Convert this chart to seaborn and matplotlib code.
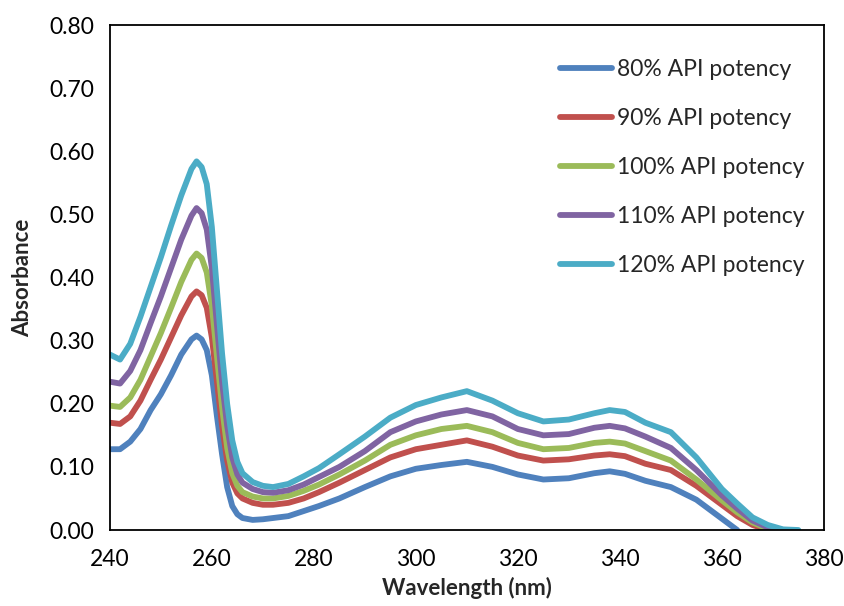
import numpy as np
import pandas as pd
import matplotlib
matplotlib.use("Agg")
import matplotlib.pyplot as plt
import seaborn as sns

# === DATA ===
wavelength = [240, 242, 244, 246, 248, 250, 252, 254, 256, 257, 258, 259, 260, 261,
              262, 263, 264, 265, 266, 268, 270, 272, 275, 278, 281, 285, 290, 295,
              300, 305, 310, 315, 320, 325, 330, 335, 338, 341, 345, 350, 355, 360,
              363, 366, 369, 372, 375]

abs_80 = [0.128, 0.128, 0.140, 0.160, 0.190, 0.215, 0.245, 0.278, 0.302, 0.308, 0.302,
          0.285, 0.245, 0.180, 0.120, 0.068, 0.038, 0.025, 0.019, 0.016, 0.017, 0.019,
          0.022, 0.030, 0.038, 0.050, 0.068, 0.085, 0.097, 0.103, 0.108, 0.100, 0.088,
          0.080, 0.082, 0.090, 0.093, 0.089, 0.078, 0.068, 0.048, 0.018, 0.000,
          np.nan, np.nan, np.nan, np.nan]
abs_90 = [0.170, 0.168, 0.180, 0.205, 0.238, 0.270, 0.305, 0.340, 0.370, 0.378, 0.372,
          0.352, 0.305, 0.235, 0.165, 0.110, 0.075, 0.058, 0.050, 0.043, 0.040, 0.040,
          0.043, 0.050, 0.060, 0.075, 0.095, 0.115, 0.128, 0.135, 0.142, 0.132, 0.118,
          0.110, 0.112, 0.118, 0.120, 0.117, 0.105, 0.095, 0.070, 0.040, 0.022, 0.008,
          0.000, np.nan, np.nan]
abs_100 = [0.197, 0.195, 0.210, 0.238, 0.275, 0.312, 0.352, 0.393, 0.428, 0.438, 0.431,
           0.408, 0.355, 0.275, 0.195, 0.130, 0.090, 0.070, 0.060, 0.053, 0.050, 0.050,
           0.054, 0.062, 0.072, 0.088, 0.110, 0.135, 0.150, 0.160, 0.165, 0.155, 0.138,
           0.128, 0.130, 0.138, 0.140, 0.137, 0.125, 0.110, 0.080, 0.047, 0.028, 0.012,
           0.002, 0.000, np.nan]
abs_110 = [0.235, 0.232, 0.252, 0.285, 0.328, 0.370, 0.415, 0.460, 0.498, 0.510, 0.502,
           0.476, 0.415, 0.325, 0.235, 0.165, 0.115, 0.088, 0.075, 0.065, 0.060, 0.059,
           0.063, 0.072, 0.084, 0.100, 0.125, 0.155, 0.172, 0.183, 0.190, 0.180, 0.160,
           0.150, 0.152, 0.162, 0.165, 0.161, 0.148, 0.130, 0.095, 0.055, 0.034, 0.015,
           0.004, 0.000, np.nan]
abs_120 = [0.278, 0.270, 0.295, 0.338, 0.385, 0.432, 0.482, 0.530, 0.572, 0.584, 0.575,
           0.548, 0.480, 0.380, 0.280, 0.200, 0.142, 0.108, 0.090, 0.076, 0.070, 0.068,
           0.073, 0.085, 0.098, 0.120, 0.148, 0.178, 0.198, 0.210, 0.220, 0.205, 0.185,
           0.172, 0.175, 0.185, 0.190, 0.187, 0.170, 0.155, 0.115, 0.065, 0.042, 0.020,
           0.008, 0.001, 0.000]

series_labels = ["80% API potency", "90% API potency", "100% API potency",
                 "110% API potency", "120% API potency"]
colors = ["#4F81BD", "#C0504D", "#9BBB59", "#8064A2", "#4BACC6"]

x_ticks = [240, 260, 280, 300, 320, 340, 360, 380]
y_ticks = [0.0, 0.1, 0.2, 0.3, 0.4, 0.5, 0.6, 0.7, 0.8]

# === LONG-FORM TABLE ===
frames = []
for lab, vals in zip(series_labels, [abs_80, abs_90, abs_100, abs_110, abs_120]):
    frames.append(pd.DataFrame({"Wavelength": wavelength, "Absorbance": vals, "Series": lab}))
df = pd.concat(frames, ignore_index=True).dropna()

# === PLOT ===
sns.set_style("white")
plt.rcParams["font.family"] = ["Lato", "DejaVu Sans"]

fig = plt.figure(figsize=(8.45, 6.06), dpi=100)
ax = fig.add_axes([0.130, 0.1254, 0.845, 0.8333])

sns.lineplot(data=df, x="Wavelength", y="Absorbance", hue="Series",
             hue_order=series_labels, palette=colors, linewidth=4.2,
             estimator=None, sort=True, ax=ax)
for line in ax.get_lines():
    line.set_solid_joinstyle("round")
    line.set_solid_capstyle("round")

ax.set_xlim(240, 380)
ax.set_ylim(0, 0.8)
ax.set_xticks(x_ticks)
ax.set_yticks(y_ticks)
ax.set_yticklabels([f"{v:.2f}" for v in y_ticks])
ax.tick_params(axis="both", labelsize=16.5, direction="out", length=5, width=1.2,
               colors="black", pad=6)
ax.tick_params(axis="x", pad=9)
for s in ax.spines.values():
    s.set_visible(True)
    s.set_color("black")
    s.set_linewidth(1.3)

ax.set_xlabel("Wavelength (nm)", fontsize=16, fontweight="bold", labelpad=5)
ax.set_ylabel("Absorbance", fontsize=16, fontweight="bold", labelpad=12)

leg = ax.legend(loc="upper left", bbox_to_anchor=(0.630, 0.932), frameon=False,
                fontsize=16.5, handlelength=2.3, handletextpad=0.2, labelspacing=1.22,
                borderpad=0, borderaxespad=0)
for line in leg.get_lines():
    line.set_linewidth(4.2)

fig.savefig("out.png", dpi=100)
